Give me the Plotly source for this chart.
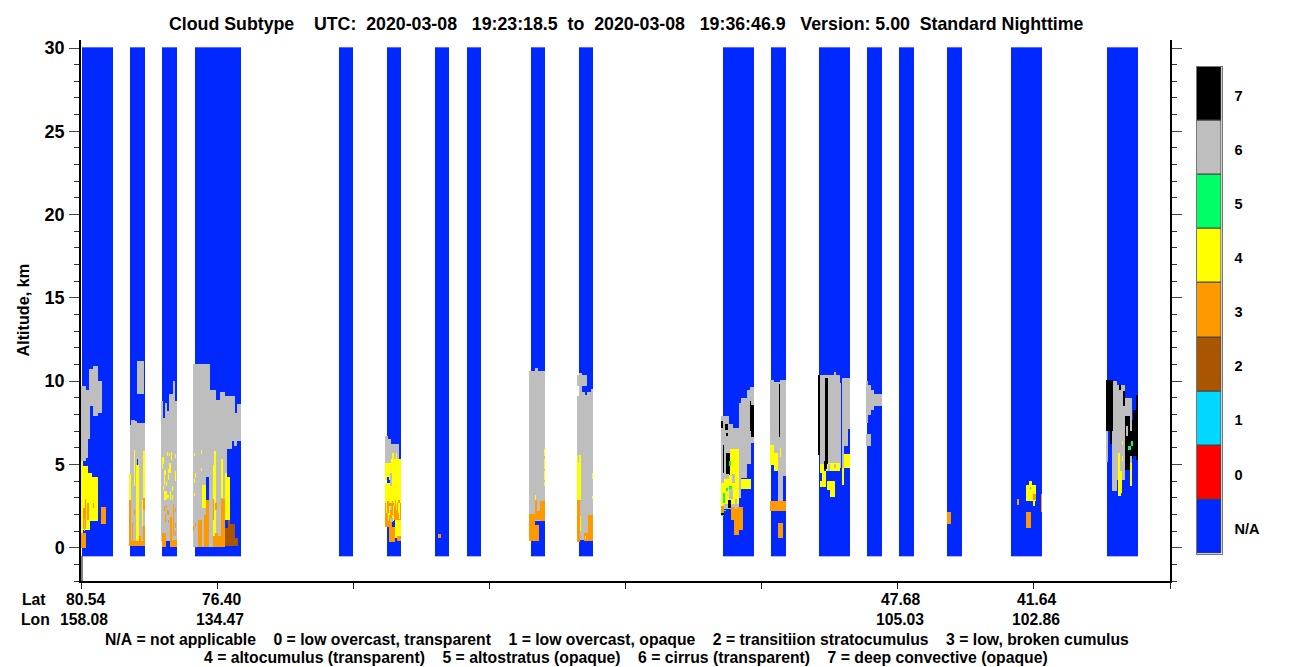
import numpy as np
import plotly.graph_objects as go

W, H = 1300, 667

# ---- legend / class table ----
CLASS_LABELS = ["N/A", "0", "1", "2", "3", "4", "5", "6", "7"]
CLASS_COLORS = ["#0028ff", "#ff0000", "#00d8ff", "#aa5500", "#ff9900",
                "#ffff00", "#00ff66", "#bebebe", "#000000"]

# ---- curtain sampling blocks (along-track position) ----
BLOCK_STARTS = [82, 130, 162, 195, 339, 387, 435, 467, 531, 579, 723, 771, 819, 867, 899, 947, 1011, 1107]
BLOCK_ENDS = [113, 145, 177, 241, 353, 401, 449, 481, 545, 593, 754, 786, 850, 882, 914, 962, 1042, 1138]

# ---- cloud patches: (along-track start, end, base km, top km) ----
CIRRUS = [
    (81, 86, 5.2, 9.7), (86, 90, 6.5, 9.45), (86, 88, 5.4, 6.5), (89, 93, 8.5, 10.75), (93, 98, 7.9, 10.9), (98, 102, 8.1, 10.0),
    (130, 131, 0.08, 7.38), (131, 135, 0.08, 7.68), (135, 137, 0.08, 7.58), (137, 145, 0.08, 7.5), (137, 144, 9.2, 11.2),
    (161, 163, 0.4, 8.8), (163, 165, 0.4, 7.8), (165, 167, 0.4, 8.7), (167, 169, 0.4, 8.2), (169, 173, 0.4, 9.2), (173, 175, 0.4, 10.0), (175, 177, 0.4, 8.8),
    (193, 210, 0.04, 11.04), (210, 216, 0.04, 9.48), (216, 220, 0.04, 8.88), (220, 225, 0.04, 9.36), (225, 227, 4.4, 9.08),
    (227, 230, 5.9, 9.08), (230, 232, 5.94, 9.08), (232, 234, 6.42, 9.08), (234, 235, 6.12, 9.08), (235, 237, 6.12, 8.08), (237, 241, 6.42, 8.64),
    (385, 388, 5.08, 6.72), (388, 391, 5.08, 6.54), (391, 399, 5.34, 6.24),
    (529, 535, 2.04, 10.62), (535, 538, 1.62, 10.8), (538, 545, 1.62, 10.62),
    (577, 587, 9.72, 10.38), (579, 582, 9.1, 10.5), (577, 580, 0.48, 9.08), (580, 585, 0.48, 9.34), (585, 587, 0.48, 9.18), (587, 591, 0.48, 9.34), (591, 593, 0.48, 9.52),
    (721, 729, 2.3, 7.88), (729, 733, 2.3, 7.44), (733, 739, 2.3, 7.18), (739, 741, 3.0, 8.68), (741, 747, 4.2, 8.98), (747, 750, 5.0, 9.48), (750, 751, 5.0, 9.62), (751, 754, 6.28, 9.62),
    (770, 774, 6.18, 10.08), (774, 778, 5.68, 9.94), (778, 780, 2.82, 9.94), (780, 783, 2.82, 10.08), (783, 786, 4.28, 10.08),
    (818, 820, 5.58, 10.38), (820, 834, 5.0, 10.38), (834, 836, 5.0, 10.56), (836, 840, 5.0, 10.38), (840, 841, 4.8, 9.88), (842, 844, 4.8, 10.18), (844, 848, 6.1, 10.18), (848, 850, 7.14, 10.18),
    (866, 868, 7.48, 9.98), (868, 871, 7.98, 9.78), (871, 874, 8.28, 9.48), (874, 882, 8.52, 9.24), (866, 871, 6.12, 6.84),
    (1106, 1108, 5.12, 6.98), (1112, 1117, 3.38, 10.0), (1117, 1125, 4.08, 9.78), (1125, 1132, 5.0, 8.98),
]
ALTOCUMULUS = [
    (81, 83, 0.9, 5.18), (83, 88, 1.08, 4.88), (88, 90, 1.08, 4.48), (90, 92, 1.58, 4.48), (92, 98, 1.58, 4.22),
    (129, 131, 2.88, 4.44), (134, 135, 3.68, 5.88), (136, 139, 0.38, 4.98), (143, 145, 2.88, 5.82), (142, 143, 1.28, 2.88),
    (167, 168, 5.48, 5.76), (169, 170, 5.48, 5.68), (171, 172, 5.28, 5.72), (175, 176, 5.4, 5.64), (162, 164, 5.04, 5.44), (162, 163, 4.72, 5.04), (169, 171, 4.72, 5.08),
    (164, 166, 4.38, 4.68), (168, 171, 4.48, 4.72), (164, 165, 3.78, 4.34), (168, 169, 4.04, 4.42), (166, 167, 3.68, 3.98), (175, 176, 3.98, 4.62), (163, 164, 3.48, 3.72),
    (172, 173, 3.42, 3.72), (164, 167, 2.88, 3.38), (170, 171, 2.88, 3.38), (167, 169, 2.98, 3.18), (172, 173, 2.88, 3.18),
    (194, 195, 5.48, 5.68), (201, 202, 5.64, 5.88), (201, 202, 4.58, 4.78), (195, 196, 4.18, 4.48), (194, 195, 3.88, 4.12), (194, 195, 3.08, 3.28),
    (202, 206, 2.38, 3.78), (206, 207, 2.88, 3.48), (213, 216, 0.68, 4.98), (214, 216, 4.98, 5.82), (221, 223, 2.98, 5.32), (225, 230, 1.68, 4.22), (225, 227, 4.22, 4.48),
    (207, 209, 0.08, 0.68), (201, 202, 0.08, 1.68),
    (385, 391, 4.08, 5.08), (385, 401, 2.68, 3.88), (391, 401, 2.68, 5.34), (392, 394, 5.34, 5.68), (396, 397, 5.34, 5.68),
    (395, 401, 0.6, 1.68),
    (535, 536, 2.88, 3.18), (544, 545, 5.52, 5.94), (544, 545, 4.74, 5.34), (544, 545, 4.08, 4.58), (544, 545, 3.72, 3.92),
    (577, 581, 2.88, 5.58), (592, 593, 4.12, 4.48), (592, 593, 2.92, 3.12), (580, 581, 0.98, 1.88),
    (721, 724, 2.48, 3.88), (724, 730, 2.6, 4.4), (730, 739, 2.6, 5.9), (741, 751, 3.54, 4.14),
    (770, 774, 4.98, 6.18), (774, 778, 4.58, 5.68), (780, 781, 5.42, 5.98),
    (820, 824, 4.48, 5.0), (822, 826, 3.66, 4.6), (820, 826, 3.66, 4.02), (827, 835, 3.48, 4.02), (830, 835, 3.06, 3.48), (826, 840, 4.58, 5.08), (842, 844, 3.78, 4.8), (844, 850, 4.8, 5.64),
    (1026, 1036, 2.78, 3.78), (1029, 1032, 3.78, 4.02), (1033, 1035, 2.48, 2.78),
    (1118, 1120, 4.58, 5.68), (1118, 1122, 3.28, 4.58), (1118, 1121, 3.08, 3.28), (1130, 1132, 3.72, 5.08), (1122, 1123, 6.18, 6.38), (1122, 1123, 5.22, 5.48),
]
LOW_BROKEN = [
    (81, 86, 0.0, 0.88), (83, 86, 1.1, 2.4), (85, 86, 2.4, 2.9), (87, 89, 1.68, 2.68), (93, 94, 2.4, 2.7), (101, 106, 1.44, 2.46),
    (129, 131, 0.08, 2.88), (143, 145, 2.28, 2.98), (143, 145, 0.08, 1.28), (131, 145, 0.08, 0.38), (132, 133, 0.38, 1.48), (134, 135, 1.98, 2.28), (139, 141, 0.08, 0.68),
    (164, 165, 2.18, 2.52), (166, 167, 2.38, 2.58), (167, 169, 1.98, 2.28), (165, 166, 1.52, 2.04), (175, 176, 2.16, 2.4), (168, 169, 1.48, 1.68),
    (170, 172, 0.48, 1.84), (173, 174, 0.68, 2.64), (175, 176, 1.18, 1.48), (175, 176, 0.68, 0.98), (162, 166, 0.02, 0.88), (170, 177, 0.02, 0.48),
    (198, 202, 0.04, 1.68), (193, 194, 1.02, 1.28), (195, 196, 1.24, 1.48), (204, 209, 0.04, 1.98), (206, 209, 1.98, 2.88),
    (213, 225, 0.04, 0.68), (213, 214, 1.68, 2.92), (215, 217, 2.28, 2.68), (221, 225, 0.68, 2.92), (215, 218, 0.68, 0.9),
    (385, 392, 1.22, 2.68), (392, 401, 1.68, 2.68), (389, 395, 0.32, 1.22), (397, 401, 0.38, 0.7),
    (387, 389, 2.68, 2.82), (392, 393, 2.68, 2.78), (395, 396, 2.68, 2.88), (398, 400, 2.68, 2.88),
    (438, 441, 0.6, 0.84),
    (529, 539, 0.42, 1.38), (529, 535, 1.38, 2.04), (535, 537, 1.68, 2.88), (537, 540, 1.68, 2.18), (540, 545, 1.62, 2.78),
    (577, 580, 0.32, 2.88), (584, 593, 0.38, 0.88), (588, 593, 0.88, 1.98),
    (721, 724, 2.08, 2.48), (731, 743, 1.68, 2.42), (734, 743, 1.08, 1.68), (734, 739, 0.78, 1.08),
    (770, 786, 2.22, 2.82), (778, 783, 0.6, 1.5),
    (947, 951, 1.44, 2.16), (1017, 1019, 2.58, 2.94), (1026, 1031, 1.2, 2.16), (1033, 1036, 2.84, 3.24), (1041, 1042, 2.16, 3.24),
]
# yellow streaks that lie on top of the low broken cumulus
ALTOCUMULUS_OVER = [
    (386, 387, 2.08, 2.68), (389, 390, 1.98, 2.48), (394, 395, 2.48, 2.68), (396, 397, 2.28, 2.68), (398, 400, 2.08, 2.68),
    (388, 389, 1.58, 2.08), (392, 394, 1.58, 1.98), (393, 394, 2.0, 2.5), (399, 400, 1.7, 2.1),
    (580, 581, 1.0, 1.9), (585, 586, 0.5, 0.7),
]
TRANSITION = [(225, 238, 0.08, 0.58), (225, 235, 0.58, 1.18), (228, 235, 1.18, 1.44), (228, 230, 1.44, 1.68)]
DEEP_CONVECTIVE = [
    (751, 754, 6.64, 8.58), (750, 751, 7.0, 8.8), (721, 723, 7.18, 7.58), (725, 728, 7.08, 7.44), (726, 728, 6.7, 6.88), (723, 724, 4.48, 6.18), (726, 730, 4.38, 5.68), (728, 731, 2.38, 2.88), (721, 724, 1.98, 2.08),
    (779, 780, 6.64, 9.8),
    (818, 820, 5.58, 10.38), (825, 828, 5.0, 10.2), (824, 827, 4.74, 5.18),
    (1106, 1113, 6.98, 10.08), (1110, 1112, 6.24, 6.98), (1119, 1121, 9.48, 9.78), (1123, 1125, 8.48, 9.38), (1125, 1130, 4.68, 7.88), (1132, 1133, 5.3, 7.68), (1133, 1136, 5.48, 8.28), (1136, 1138, 5.28, 9.18), (1130, 1132, 5.5, 7.0),
]
ALTOSTRATUS = [
    (729, 731, 4.92, 5.22), (729, 732, 3.48, 3.68), (726, 728, 3.38, 3.58), (723, 725, 2.68, 3.28), (723, 726, 2.18, 2.28), (721, 724, 1.88, 1.98),
    (1030, 1031, 3.54, 3.66), (1128, 1131, 5.88, 6.12), (1131, 1133, 6.08, 6.38),
]
CIRRUS_OVER = [
    (84, 85, 1.0, 1.7), (390, 392, 3.72, 4.48), (390, 392, 2.28, 2.48), (390, 393, 1.52, 1.78),
    (732, 735, 3.9, 4.4), (729, 733, 2.9, 3.5), (724, 729, 4.1, 4.4), (735, 737, 2.3, 2.9), (725, 726, 4.4, 5.9),
    (828, 830, 4.6, 5.0), (834, 836, 4.8, 5.0), (1126, 1128, 6.7, 7.3), (578, 579, 5.1, 5.58),
]
CLEAR_GAPS = [(137, 138, 4.98, 5.34), (206, 209, 2.88, 4.22), (387, 389, 3.88, 4.22), (163, 164, 7.8, 8.8)]

# ---- axis labels ----
Y_MAJOR = [0, 5, 10, 15, 20, 25, 30]
X_TICKS = [81.7, 217.7, 353.8, 489.8, 625.8, 761.9, 897.9, 1033.9, 1170]
LAT_TEXT = ["80.54", "76.40", "47.68", "41.64"]
LON_TEXT = ["158.08", "134.47", "105.03", "102.86"]
LABEL_TICK_INDEX = [0, 1, 6, 7]
TITLE = "Cloud Subtype    UTC:  2020-03-08   19:23:18.5  to  2020-03-08   19:36:46.9   Version: 5.00  Standard Nighttime"
FOOT_1 = "N/A = not applicable    0 = low overcast, transparent    1 = low overcast, opaque    2 = transitiion stratocumulus    3 = low, broken cumulus"
FOOT_2 = "4 = altocumulus (transparent)    5 = altostratus (opaque)    6 = cirrus (transparent)    7 = deep convective (opaque)"

# ---- build the curtain grid ----
x_edges = np.arange(80, 1171, 1.0)
y_edges = np.arange(-0.5, 30.07, 0.06)
xc = (x_edges[:-1] + x_edges[1:]) / 2
yc = (y_edges[:-1] + y_edges[1:]) / 2
z = np.full((yc.size, xc.size), np.nan)


def paint(patches, value):
    for x0, x1, base, top in patches:
        z[np.ix_((yc >= base) & (yc < top), (xc >= x0) & (xc < x1))] = value


for a, b in zip(BLOCK_STARTS, BLOCK_ENDS):
    paint([(a, b, -0.5, 30.06)], -1)
paint(CIRRUS, 6)
paint(ALTOCUMULUS, 4)
paint(LOW_BROKEN, 3)
paint(ALTOCUMULUS_OVER, 4)
paint(TRANSITION, 2)
paint(DEEP_CONVECTIVE, 7)
paint(ALTOSTRATUS, 5)
paint(CIRRUS_OVER, 6)
paint(CLEAR_GAPS, -1)

n = len(CLASS_COLORS)
scale = []
for i, c in enumerate(CLASS_COLORS):
    scale += [[i / n, c], [(i + 1) / n, c]]

fig = go.Figure()
fig.add_trace(go.Heatmap(x=xc, y=yc, z=z, zmin=-1.5, zmax=7.5, colorscale=scale,
                         showscale=False, hoverinfo="skip", xaxis="x", yaxis="y"))
fig.add_trace(go.Bar(x=[0] * n, y=[1] * n, base=list(range(n)),
                     marker=dict(color=CLASS_COLORS, line=dict(color="#444444", width=1)),
                     width=1, showlegend=False, hoverinfo="skip", xaxis="x2", yaxis="y2"))

FONT = "Liberation Sans"


def px(v):
    return v / W


def py(v):
    return (H - v) / H


def bold(size):
    return dict(family=FONT, size=size, color="black", weight=700)


annos = [
    dict(text=TITLE.replace(" ", "\u00a0"), x=px(626), y=py(24), font=bold(17.75)),
    dict(text=FOOT_1.replace(" ", "\u00a0"), x=px(617), y=py(639), font=bold(15.75)),
    dict(text=FOOT_2.replace(" ", "\u00a0"), x=px(626), y=py(657), font=bold(15.75)),
    dict(text="Altitude, km", x=px(22.5), y=py(310), textangle=-90, font=bold(16.2)),
    dict(text="Lat", x=px(34), y=py(599), font=bold(15.7)),
    dict(text="Lon", x=px(35), y=py(619), font=bold(15.7)),
]
for i, lat, lon in zip(LABEL_TICK_INDEX, LAT_TEXT, LON_TEXT):
    annos.append(dict(text=lat, xref="x", yref="paper", x=X_TICKS[i], xshift=4 if i < 2 else 3, y=py(599), font=bold(15.7)))
    annos.append(dict(text=lon, xref="x", yref="paper", x=X_TICKS[i], xshift=2, y=py(619), font=bold(15.7)))
for a in annos:
    a.setdefault("xref", "paper")
    a.setdefault("yref", "paper")
    a.update(showarrow=False, xanchor="center", yanchor="middle")

fig.update_layout(
    width=W, height=H, autosize=False,
    margin=dict(l=0, r=0, t=0, b=0, autoexpand=False),
    paper_bgcolor="white", plot_bgcolor="white", showlegend=False,
    bargap=0, barmode="overlay",
    annotations=annos,
    shapes=[dict(type="line", xref="x", yref="y", x0=82, x1=82, y0=-0.5, y1=-2,
                 line=dict(color="black", width=1))],
    xaxis=dict(domain=[px(81), px(1170)], range=[81, 1170], anchor="y",
               tickmode="array", tickvals=X_TICKS, ticktext=[""] * len(X_TICKS),
               ticks="outside", ticklen=6, tickwidth=1, tickcolor="#222222",
               showline=True, linecolor="black", linewidth=1.5, showgrid=False, zeroline=False),
    yaxis=dict(domain=[py(581), py(40)], range=[-2, 30.48], anchor="x",
               tickmode="array", tickvals=Y_MAJOR, ticks="outside", ticklen=10, tickwidth=1.2,
               tickcolor="#444444", tickfont=bold(18), ticklabelstandoff=1,
               minor=dict(tickmode="linear", tick0=0, dtick=1, ticks="outside", ticklen=5, tickwidth=1, tickcolor="#333333"),
               showline=True, linecolor="black", linewidth=1.5, mirror="allticks",
               showgrid=False, zeroline=False),
    xaxis2=dict(domain=[px(1196.5), px(1221.5)], range=[-0.5, 0.5], anchor="y2", showticklabels=False,
                ticks="", showgrid=False, zeroline=False, showline=True, mirror=True,
                linecolor="#777777", linewidth=1.2),
    yaxis2=dict(domain=[py(553.5), py(66.5)], range=[0, n], anchor="x2", side="right",
                tickmode="array", tickvals=[i + 0.46 for i in range(n)], ticktext=CLASS_LABELS,
                ticks="", tickfont=bold(14.5), ticklabelstandoff=9, showgrid=False, zeroline=False,
                showline=True, mirror=True, linecolor="#777777", linewidth=1.2),
)

fig.write_html("out.html", config={"displayModeBar": False},
               post_script="document.body.style.margin='0';")
